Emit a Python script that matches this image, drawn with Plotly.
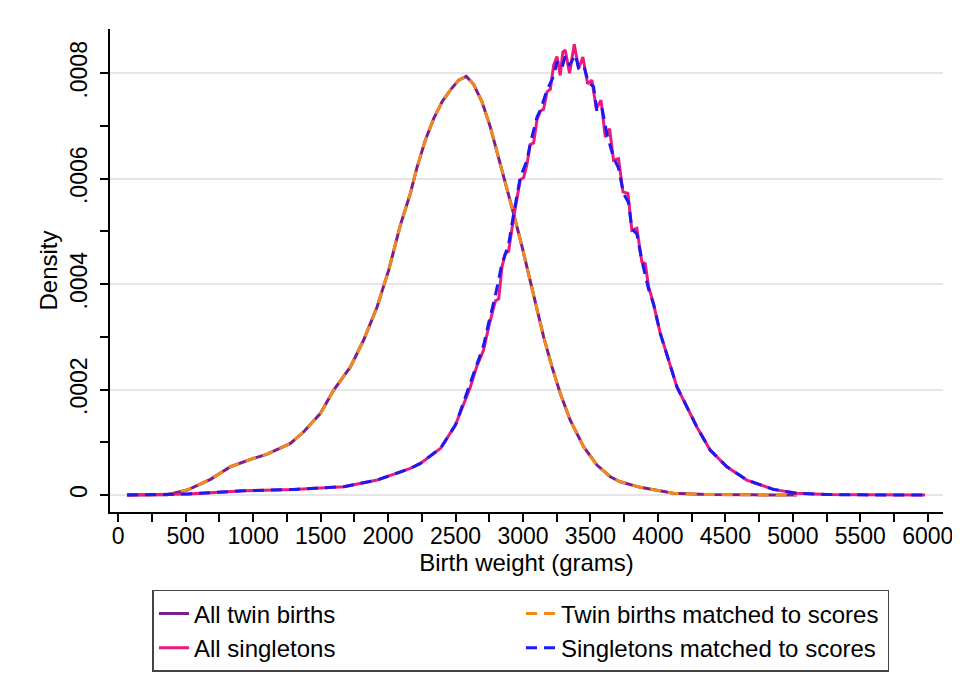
import plotly.graph_objects as go

# ---- data ----
twin_weight = [66, 363, 511, 684, 832, 980, 1104, 1276, 1375, 1499, 1597, 1721, 1819, 1919,
               2005, 2091, 2165, 2215, 2276, 2338, 2400, 2461, 2523, 2580, 2634, 2696, 2758,
               2819, 2881, 2930, 2993, 3054, 3104, 3153, 3215, 3276, 3350, 3449, 3548, 3647,
               3721, 3869, 4115, 4361, 4700, 5030]
twin_density = [0, 0.0000005, 0.0000095, 0.0000297, 0.0000537, 0.0000676, 0.0000777, 0.000098,
                0.00012, 0.000155, 0.000199, 0.000243, 0.000294, 0.000357, 0.000427, 0.000512,
                0.000572, 0.000622, 0.000673, 0.000714, 0.000746, 0.000768, 0.000787, 0.000794,
                0.000779, 0.000746, 0.000698, 0.000641, 0.000584, 0.000534, 0.000471, 0.000404,
                0.000351, 0.0003, 0.000243, 0.000193, 0.000142, 0.0000916, 0.0000569, 0.0000347,
                0.0000252, 0.0000146, 0.0000032, 0.000001, 0.0000003, 0]
twin_matched_density = list(twin_density)

single_weight = [66, 511, 684, 930, 1301, 1671, 1919, 2165, 2240, 2390, 2500, 2610, 2659, 2708,
                 2745, 2795, 2820, 2844, 2869, 2893, 2930, 2955, 2980, 3005, 3030, 3054, 3079,
                 3104, 3128, 3153, 3178, 3203, 3227, 3252, 3276, 3295, 3313, 3345, 3380, 3412,
                 3444, 3479, 3511, 3543, 3578, 3610, 3642, 3671, 3708, 3741, 3778, 3807, 3844,
                 3881, 3906, 3931, 3967, 4017, 4079, 4141, 4215, 4289, 4387, 4511, 4659, 4856,
                 5030, 5252, 5500, 5980]
single_density = [0, 0.000002, 0.0000044, 0.0000082, 0.0000107, 0.0000158, 0.0000284, 0.0000505,
                  0.00006, 0.000089, 0.000133, 0.000205, 0.000245, 0.000275, 0.000318, 0.000368,
                  0.000372, 0.000432, 0.000458, 0.000462, 0.000525, 0.00056, 0.000598, 0.000602,
                  0.000628, 0.000665, 0.000668, 0.000712, 0.000728, 0.000732, 0.000765, 0.00077,
                  0.000815, 0.000832, 0.000796, 0.00084, 0.000844, 0.0008, 0.000855, 0.000809,
                  0.000831, 0.00078, 0.000787, 0.000733, 0.000749, 0.000679, 0.000695, 0.000635,
                  0.000638, 0.000575, 0.000572, 0.000502, 0.000506, 0.000442, 0.000439, 0.000395,
                  0.000363, 0.000307, 0.000256, 0.000205, 0.000167, 0.000129, 0.0000853,
                  0.0000537, 0.0000284, 0.0000107, 0.0000032, 0.000001, 0.0000003, 0]

single_matched_weight = [66, 511, 684, 930, 1301, 1671, 1919, 2165, 2240, 2390, 2500, 2610, 2659,
                         2708, 2745, 2795, 2844, 2893, 2930, 2980, 3030, 3054, 3104, 3128, 3178,
                         3227, 3252, 3289, 3313, 3345, 3388, 3412, 3449, 3486, 3523, 3548, 3585,
                         3622, 3671, 3708, 3745, 3782, 3807, 3844, 3881, 3931, 3967, 4017, 4079,
                         4141, 4215, 4289, 4387, 4511, 4659, 4856, 5030, 5252, 5500, 5980]
single_matched_density = [0, 0.000002, 0.0000044, 0.0000082, 0.0000107, 0.0000158, 0.0000284,
                          0.0000505, 0.00006, 0.000089, 0.000133, 0.000212, 0.00025, 0.000284,
                          0.000326, 0.000378, 0.000439, 0.000475, 0.000532, 0.000603, 0.000635,
                          0.000667, 0.000717, 0.00073, 0.000768, 0.000795, 0.000822, 0.00081,
                          0.000832, 0.000815, 0.000835, 0.00081, 0.000815, 0.000782, 0.000775,
                          0.000728, 0.000735, 0.000685, 0.00064, 0.00062, 0.000572, 0.000555,
                          0.000505, 0.000495, 0.000445, 0.00039, 0.000363, 0.000307, 0.000256,
                          0.000205, 0.000167, 0.000129, 0.0000853, 0.0000537, 0.0000284,
                          0.0000107, 0.0000032, 0.000001, 0.0000003, 0]

x_tick_vals = [0, 500, 1000, 1500, 2000, 2500, 3000, 3500, 4000, 4500, 5000, 5500, 6000]
x_tick_text = ["0", "500", "1000", "1500", "2000", "2500", "3000", "3500", "4000", "4500",
               "5000", "5500", "6000"]
y_tick_vals = [0, 0.0002, 0.0004, 0.0006, 0.0008]
y_tick_text = ["0", ".0002", ".0004", ".0006", ".0008"]

FONT = "Liberation Sans, Arial, Helvetica, sans-serif"
FS_TICK = 23
FS_TITLE = 24
FS_LEG = 24

fig = go.Figure()
fig.add_trace(go.Scatter(x=twin_weight, y=twin_density, mode="lines", name="All twin births",
                         line=dict(color="#7B1E8E", width=3)))
fig.add_trace(go.Scatter(x=twin_weight, y=twin_matched_density, mode="lines",
                         name="Twin births matched to scores",
                         line=dict(color="#F28A1A", width=3, dash="11px,7px")))
fig.add_trace(go.Scatter(x=single_weight, y=single_density, mode="lines", name="All singletons",
                         line=dict(color="#EC1A7E", width=3)))
fig.add_trace(go.Scatter(x=single_matched_weight, y=single_matched_density, mode="lines",
                         name="Singletons matched to scores",
                         line=dict(color="#1A1AF5", width=3, dash="11px,7px")))

# page body has an 8px margin, so the figure is 952x683 placed at (8, 8)
fig.update_layout(
    width=952, height=683,
    margin=dict(l=101.5, r=17, t=20.5, b=179, autoexpand=False),
    paper_bgcolor="white", plot_bgcolor="white",
    font=dict(family=FONT, size=FS_TICK, color="black"),
    showlegend=True,
    legend=dict(orientation="h", x=0.051, xanchor="left", y=-0.1613, yanchor="top",
                bordercolor="#444444", borderwidth=1.5, bgcolor="white",
                entrywidth=322, entrywidthmode="pixels",
                font=dict(family=FONT, size=FS_LEG, color="black"),
                traceorder="normal", tracegroupgap=0),
)
fig.update_xaxes(
    range=[-61, 6113], tickvals=x_tick_vals, ticktext=x_tick_text,
    showgrid=False, zeroline=False, showline=True, linecolor="black", linewidth=1.5,
    ticks="outside", ticklen=8, tickwidth=1.5, tickcolor="black",
    minor=dict(dtick=250, tick0=0, ticks="outside", ticklen=8, tickwidth=1.5, tickcolor="black",
               showgrid=False),
    title=dict(text="Birth weight (grams)", standoff=4, font=dict(size=FS_TITLE)),
    tickfont=dict(size=FS_TICK), ticklabelstandoff=-5,
    ticklabeloverflow="allow",
)
fig.update_yaxes(
    range=[-0.0000322, 0.000884], tickvals=y_tick_vals, ticktext=y_tick_text,
    tickangle=-90, ticklabelstandoff=4,
    showgrid=True, gridcolor="#E6E6E6", gridwidth=1.5, zeroline=False,
    showline=True, linecolor="black", linewidth=1.5,
    ticks="outside", ticklen=8, tickwidth=1.5, tickcolor="black",
    minor=dict(dtick=0.0001, tick0=0, ticks="outside", ticklen=8, tickwidth=1.5,
               tickcolor="black", showgrid=False),
    title=dict(text="Density", standoff=2, font=dict(size=FS_TITLE)),
    tickfont=dict(size=FS_TICK),
)

fig.write_html("out.html")
